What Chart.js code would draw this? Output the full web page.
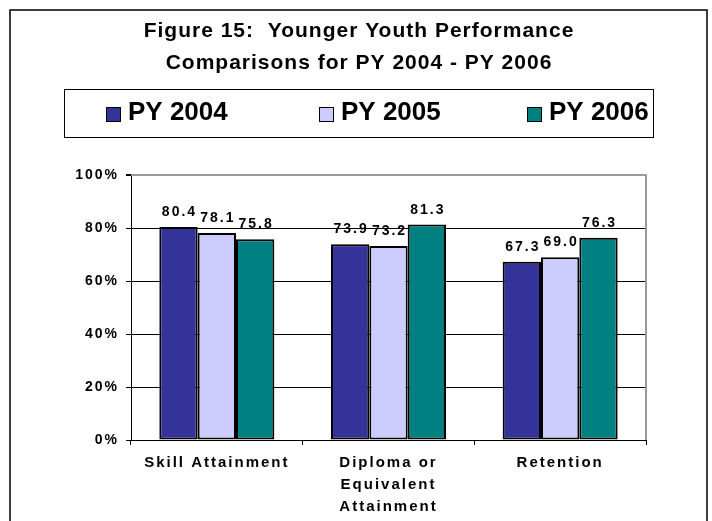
<!DOCTYPE html>
<html>
<head>
<meta charset="utf-8">
<script src="https://cdn.jsdelivr.net/npm/chart.js@4.4.0/dist/chart.umd.min.js"></script>
<style>
  html, body { margin: 0; padding: 0; background: #fff; }
  #wrap { width: 712px; height: 521px; position: relative; }
</style>
</head>
<body>
<div id="wrap"><canvas id="bar-chart" width="712" height="521"></canvas></div>
<script>
// chart data
var categories = ["Skill Attainment", ["Diploma or", "Equivalent", "Attainment"], "Retention"];
var seriesNames = ["PY 2004", "PY 2005", "PY 2006"];
var py2004 = [80.4, 73.9, 67.3];
var py2005 = [78.1, 73.2, 69.0];
var py2006 = [75.8, 81.3, 76.3];
var seriesColors = ["#333399", "#CCCCFF", "#008080"];
var titleLines = ["Figure 15:  Younger Youth Performance", "Comparisons for PY 2004 - PY 2006"];
var yTicks = [0, 20, 40, 60, 80, 100];

var FONT = "'Liberation Sans', Arial, sans-serif";

// ======
// frame, title, legend box, value labels
// ======
var decorations = {
    id: 'decorations',
    beforeDraw: function(chart) {
        chart.ctx.letterSpacing = '2px';
    },
    afterDatasetsDraw: function(chart) {
        var ctx = chart.ctx;
        ctx.save();
        ctx.letterSpacing = '2px';
        ctx.font = "bold 14px " + FONT;
        ctx.fillStyle = '#000';
        ctx.textAlign = 'center';
        ctx.textBaseline = 'alphabetic';
        chart.data.datasets.forEach(function(ds, i) {
            var meta = chart.getDatasetMeta(i);
            meta.data.forEach(function(bar, j) {
                ctx.fillText(ds.data[j].toFixed(1), bar.x + 1, bar.y - 11);
            });
        });
        ctx.restore();
    },
    afterDraw: function(chart) {
        var ctx = chart.ctx;
        var area = chart.chartArea;
        ctx.save();
        ctx.letterSpacing = '0px';

        // right and top border of plot area
        ctx.strokeStyle = '#999';
        ctx.lineWidth = 2;
        ctx.beginPath();
        ctx.moveTo(area.left, area.top);
        ctx.lineTo(area.right, area.top);
        ctx.lineTo(area.right, area.bottom);
        ctx.stroke();

        // outer frame (open at bottom)
        ctx.strokeStyle = '#000';
        ctx.lineWidth = 1.5;
        ctx.beginPath();
        ctx.moveTo(10, 530);
        ctx.lineTo(10, 10);
        ctx.lineTo(707, 10);
        ctx.lineTo(707, 530);
        ctx.stroke();

        // title
        ctx.fillStyle = '#000';
        ctx.textAlign = 'center';
        ctx.textBaseline = 'middle';
        ctx.letterSpacing = '1px';
        ctx.font = "bold 21px " + FONT;
        titleLines.forEach(function(line, i) {
            ctx.fillText(line, 359, 31 + i * 32);
        });

        // legend box
        ctx.letterSpacing = '0px';
        ctx.lineWidth = 1;
        ctx.strokeStyle = '#000';
        ctx.strokeRect(64.5, 89.5, 589, 48);
        ctx.font = "bold 26px " + FONT;
        ctx.textAlign = 'left';
        var itemX = [106, 319, 527];
        seriesNames.forEach(function(name, i) {
            var x = itemX[i];
            ctx.fillStyle = seriesColors[i];
            ctx.fillRect(x, 107, 14, 14);
            ctx.strokeRect(x + 0.5, 107.5, 14, 14);
            ctx.fillStyle = '#000';
            ctx.fillText(name, x + 22, 113);
        });
        ctx.restore();
    }
};

var barChartElement = document.getElementById('bar-chart');
if (barChartElement) {
    new Chart(barChartElement, {
        type: 'bar',
        data: {
            labels: categories,
            datasets: seriesNames.map(function(name, i) {
                return {
                    label: name,
                    data: [py2004, py2005, py2006][i],
                    backgroundColor: seriesColors[i],
                    borderColor: '#000',
                    borderWidth: 2,
                    borderSkipped: false,
                    categoryPercentage: 0.67,
                    barPercentage: 1.0
                };
            })
        },
        options: {
            responsive: false,
            animation: false,
            events: [],
            layout: {
                padding: { top: 175, left: 0, right: 66, bottom: 0 }
            },
            plugins: {
                legend: { display: false },
                title: { display: false },
                tooltip: { enabled: false }
            },
            scales: {
                x: {
                    grid: {
                        offset: true,
                        drawOnChartArea: false,
                        color: '#000',
                        tickLength: 5
                    },
                    border: { color: '#000', width: 1 },
                    ticks: {
                        color: '#000',
                        padding: 7,
                        maxRotation: 0,
                        autoSkip: false,
                        font: { family: FONT, size: 15, weight: 'bold', lineHeight: 1.47 }
                    },
                    afterFit: function(scale) { scale.height = 81; }
                },
                y: {
                    min: 0,
                    max: 100,
                    afterBuildTicks: function(scale) {
                        scale.ticks = yTicks.map(function(v) { return { value: v }; });
                    },
                    grid: {
                        color: function(c) { return c.tick && c.tick.value === 100 ? '#999' : '#000'; },
                        lineWidth: function(c) { return c.tick && c.tick.value === 100 ? 2 : 1; },
                        tickColor: '#000',
                        tickLength: 5
                    },
                    border: { color: '#000', width: 1 },
                    ticks: {
                        color: '#000',
                        padding: 7,
                        font: { family: FONT, size: 14, weight: 'bold' },
                        callback: function(v) { return v + '%'; }
                    },
                    afterFit: function(scale) { scale.width = 131; }
                }
            }
        },
        plugins: [decorations]
    });
}
</script>
</body>
</html>
